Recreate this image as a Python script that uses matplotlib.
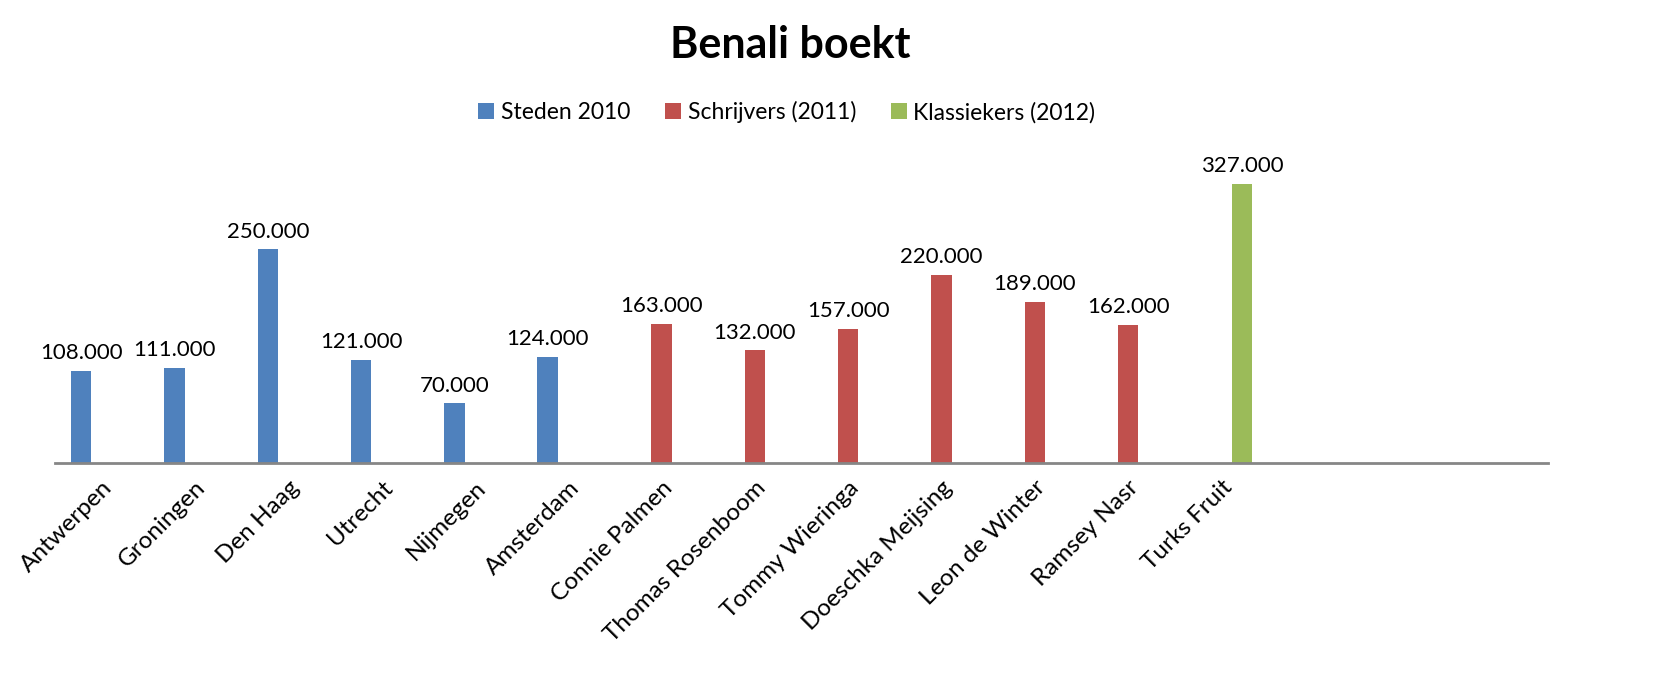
import numpy as np
import matplotlib.pyplot as plt

plt.rcParams["font.family"] = ["Lato", "DejaVu Sans"]

# categories on the axis (the last three slots are empty in the original)
categories = ["Antwerpen", "Groningen", "Den Haag", "Utrecht", "Nijmegen",
              "Amsterdam", "Connie Palmen", "Thomas Rosenboom", "Tommy Wieringa",
              "Doeschka Meijsing", "Leon de Winter", "Ramsey Nasr", "Turks Fruit",
              "", "", ""]
steden = [108000, 111000, 250000, 121000, 70000, 124000]
schrijvers = [163000, 132000, 157000, 220000, 189000, 162000]
klassiekers = [327000]

series_names = ["Steden 2010", "Schrijvers (2011)", "Klassiekers (2012)"]
colors = ["#4F81BD", "#C0504D", "#9BBB59"]

n = len(categories)
x = np.arange(n)
bw = 0.22

fig = plt.figure(figsize=(16.53, 6.89), dpi=100)
ax = fig.add_axes([0.0333, 0.328, 0.9032, 0.434])

# each series sits in its own slot of a 3-bar cluster, as in Excel
groups = [(steden, 0, -1), (schrijvers, 6, 0), (klassiekers, 12, 1)]
for (vals, start, slot), name, col in zip(groups, series_names, colors):
    pos = x[start:start + len(vals)] + slot * bw
    bars = ax.bar(pos, vals, width=bw, color=col, label=name)
    for b, v in zip(bars, vals):
        ax.text(b.get_x() + b.get_width() / 2, v + 9000,
                f"{v:,}".replace(",", "."), ha="center", va="bottom",
                fontsize=16, color="black")

ax.set_xlim(-0.5, n - 0.5)
ax.set_ylim(0, 350000)
ax.set_xticks(x)
ax.set_xticklabels(categories, rotation=45, ha="right", rotation_mode="anchor",
                   fontsize=17.5)
ax.tick_params(axis="x", length=0, pad=10)
ax.set_yticks([])
for s in ["top", "right", "left"]:
    ax.spines[s].set_visible(False)
ax.spines["bottom"].set_color("#868686")
ax.spines["bottom"].set_linewidth(2)

fig.text(0.478, 0.935, "Benali boekt", ha="center", va="center",
         fontsize=31, fontweight="bold")
fig.legend(loc="center", bbox_to_anchor=(0.476, 0.837), ncol=3, frameon=False,
           fontsize=16.5, handlelength=0.7, handleheight=0.7, handletextpad=0.3,
           columnspacing=1.5)

fig.savefig("out.png", dpi=100)
